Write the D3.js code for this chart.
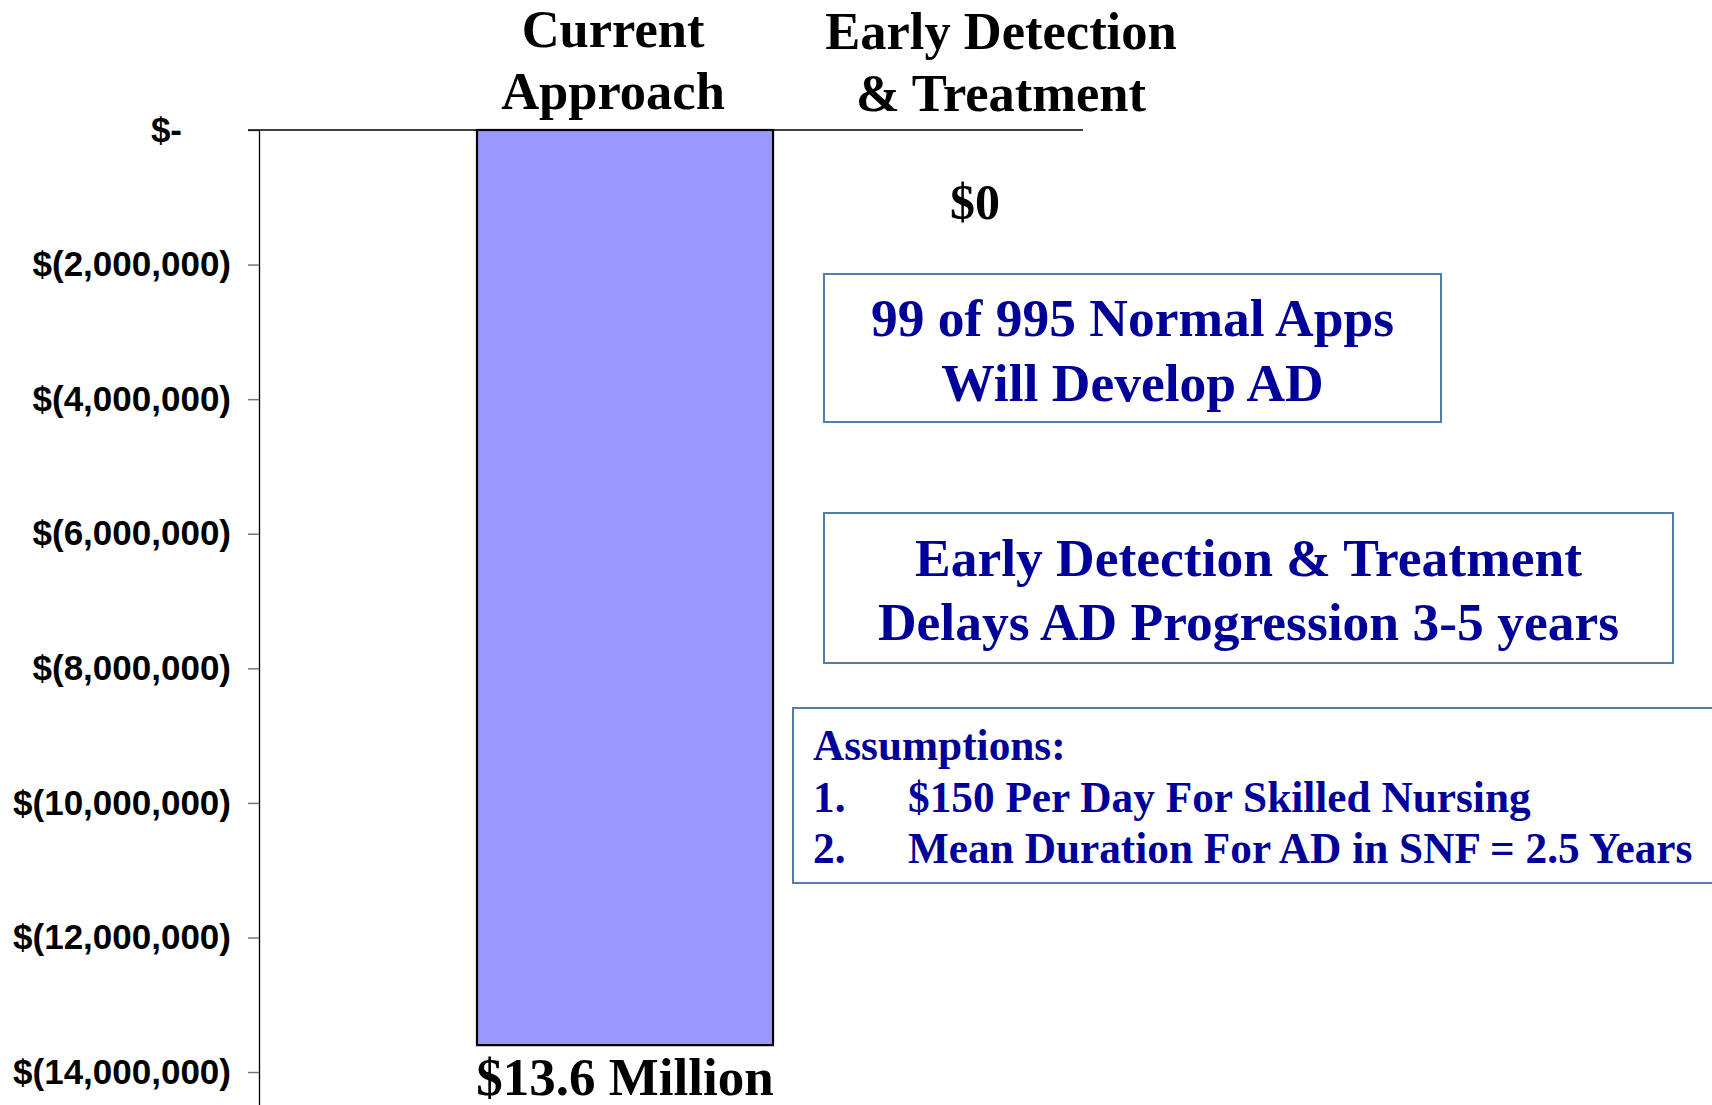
<!DOCTYPE html>
<html>
<head>
<meta charset="utf-8">
<script src="https://cdn.jsdelivr.net/npm/d3@7"></script>
<style>
  html, body { margin: 0; padding: 0; background: #fff; }
  svg { display: block; }
</style>
</head>
<body>
<svg id="chart" width="1712" height="1105"></svg>
<script>
// ---- data ----
const categories = ["Current Approach", "Early Detection & Treatment"];
const headerLines = [["Current", "Approach"], ["Early Detection", "& Treatment"]];
const values = [-13600000, 0];
const valueLabels = ["$13.6 Million", "$0"];
const tickValues = [0, -2000000, -4000000, -6000000, -8000000, -10000000, -12000000, -14000000];
const tickLabels = ["$-", "$(2,000,000)", "$(4,000,000)", "$(6,000,000)", "$(8,000,000)", "$(10,000,000)", "$(12,000,000)", "$(14,000,000)"];
const note1Lines = ["99 of 995 Normal Apps", "Will Develop AD"];
const note2Lines = ["Early Detection & Treatment", "Delays AD Progression 3-5 years"];
const assumptionsTitle = "Assumptions:";
const assumptionNums = ["1.", "2."];
const assumptionItems = ["$150 Per Day For Skilled Nursing", "Mean Duration For AD in SNF = 2.5 Years"];

// ---- layout ----
const svg = d3.select("#chart");
const serif = "'Liberation Serif', 'Times New Roman', Times, serif";
const sans = "'Liberation Sans', Arial, Helvetica, sans-serif";
const axisX = 259;
const plotRight = 1083;
const navy = "#000099";
const boxStroke = "#4F7DAF";

const y = d3.scaleLinear().domain([0, -14500000]).range([130, 1105.7]);
const x = d3.scaleBand().domain(categories).range([431, 1207]).paddingInner(0.237).paddingOuter(0.1186);

// y axis
const yAxis = d3.axisLeft(y)
  .tickValues(tickValues)
  .tickFormat((d, i) => tickLabels[i])
  .tickSize(11)
  .tickSizeOuter(0)
  .tickPadding(17);

const gy = svg.append("g").attr("transform", `translate(${axisX},0)`).call(yAxis);
gy.select(".domain").attr("stroke", "#000").attr("stroke-width", 1.3);
gy.selectAll(".tick line").attr("stroke", "#777").attr("stroke-width", 1.5);
gy.selectAll(".tick text")
  .attr("font-family", sans).attr("font-weight", "bold").attr("font-size", 35)
  .attr("fill", "#000")
  .attr("dx", (d, i) => i === 0 ? -49 : 0);

// horizontal zero line (category axis)
svg.append("line")
  .attr("x1", axisX - 11).attr("x2", plotRight)
  .attr("y1", y(0)).attr("y2", y(0))
  .attr("stroke", "#000").attr("stroke-width", 1.3);

// bars
svg.selectAll("rect.bar").data(categories.map((c, i) => ({ c, v: values[i] })).filter(d => d.v !== 0))
  .enter().append("rect").attr("class", "bar")
  .attr("x", d => x(d.c))
  .attr("width", x.bandwidth())
  .attr("y", d => Math.min(y(0), y(d.v)))
  .attr("height", d => Math.abs(y(d.v) - y(0)))
  .attr("fill", "#9999FF")
  .attr("stroke", "#000").attr("stroke-width", 2.2);

// category headers
categories.forEach((c, i) => {
  const cx = x(c) + x.bandwidth() / 2 - 12;
  const t = svg.append("text")
    .attr("text-anchor", "middle")
    .attr("font-family", serif).attr("font-weight", "bold").attr("font-size", 52.5)
    .attr("fill", "#000");
  headerLines[i].forEach((ln, j) => {
    t.append("tspan").attr("x", cx).attr("y", 47 + j * 62 + i * 2).text(ln);
  });
});

// value labels
svg.append("text")
  .attr("x", x(categories[0]) + x.bandwidth() / 2)
  .attr("y", 1095)
  .attr("text-anchor", "middle")
  .attr("font-family", serif).attr("font-weight", "bold").attr("font-size", 53)
  .attr("fill", "#000").text(valueLabels[0]);

svg.append("text")
  .attr("x", x(categories[1]) + x.bandwidth() / 2 - 38)
  .attr("y", 219)
  .attr("text-anchor", "middle")
  .attr("font-family", serif).attr("font-weight", "bold").attr("font-size", 50)
  .attr("fill", "#000").text(valueLabels[1]);

// note boxes
function noteBox(x0, y0, w, h, lines, baselines) {
  svg.append("rect").attr("x", x0).attr("y", y0).attr("width", w).attr("height", h)
    .attr("fill", "#fff").attr("stroke", boxStroke).attr("stroke-width", 2);
  const t = svg.append("text").attr("text-anchor", "middle")
    .attr("font-family", serif).attr("font-weight", "bold").attr("font-size", 53.5).attr("fill", navy);
  lines.forEach((ln, j) => t.append("tspan").attr("x", x0 + w / 2).attr("y", baselines[j]).text(ln));
}
noteBox(824, 274, 617, 148, note1Lines, [336, 401]);
noteBox(824, 513, 849, 150, note2Lines, [576, 640]);

// assumptions box
svg.append("rect").attr("x", 793).attr("y", 708).attr("width", 940).attr("height", 175)
  .attr("fill", "#fff").attr("stroke", boxStroke).attr("stroke-width", 2);
const ga = svg.append("g").attr("font-family", serif).attr("font-weight", "bold")
  .attr("font-size", 43.3).attr("fill", navy);
ga.append("text").attr("x", 813).attr("y", 760).text(assumptionsTitle);
assumptionNums.forEach((n, i) => {
  ga.append("text").attr("x", 813).attr("y", 812 + i * 51).text(n);
  ga.append("text").attr("x", 908).attr("y", 812 + i * 51).text(assumptionItems[i]);
});
</script>
</body>
</html>
